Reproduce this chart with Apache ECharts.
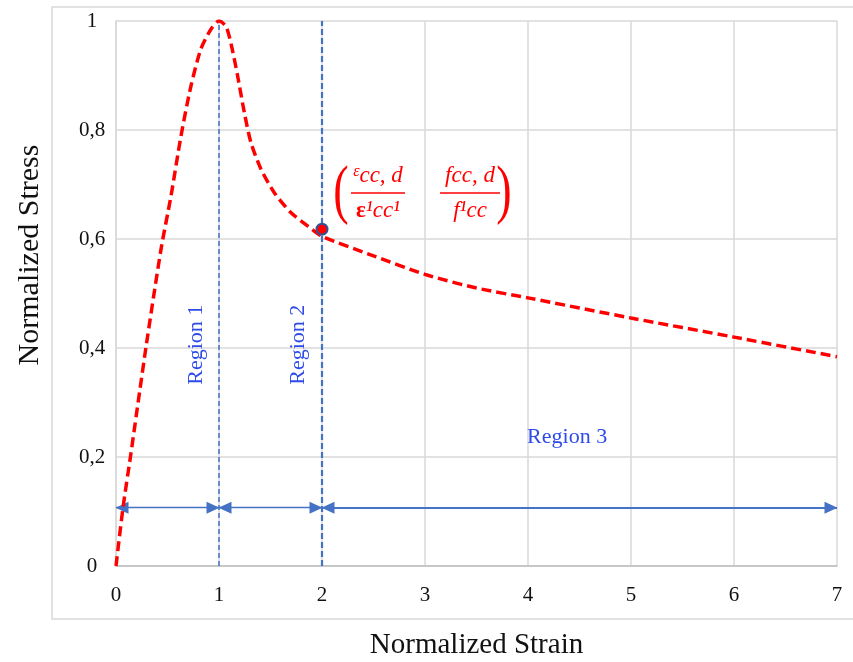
<!DOCTYPE html>
<html>
<head>
<meta charset="utf-8">
<script src="https://cdn.jsdelivr.net/npm/echarts@6/dist/echarts.min.js"></script>
<style>
html,body{margin:0;padding:0;background:#fff;}
#main{width:853px;height:662px;}
</style>
</head>
<body>
<div id="main"></div>
<script>
// ---- data ----
const strainValues = [0, 0.068, 0.14, 0.29, 0.437, 0.534, 0.631, 0.728, 0.825, 0.922, 1.0, 1.068, 1.117, 1.18, 1.246, 1.31, 1.408, 1.537, 1.70, 1.86, 2.0, 2.5, 3, 3.5, 4, 5, 6, 7];
const stressValues = [0, 0.107, 0.2, 0.4, 0.581, 0.679, 0.789, 0.881, 0.949, 0.985, 1.0, 0.99, 0.958, 0.90, 0.832, 0.777, 0.728, 0.685, 0.648, 0.624, 0.605, 0.569, 0.535, 0.51, 0.492, 0.455, 0.42, 0.384];
const regionBoundaries = [1, 2];
const regionArrowY = 0.107;
const regionArrows = [[0, 1], [1, 2], [2, 7]];
const markedPoint = [2, 0.618];
const regionLabels = ['Region 1', 'Region 2', 'Region 3'];
const xTitle = 'Normalized Strain';
const yTitle = 'Normalized Stress';

const curve = strainValues.map((x, i) => [x, stressValues[i]]);
const serif = '"Liberation Serif", "DejaVu Serif", serif';
const blue = '#4472C4';
const labelBlue = '#2E4BEA';

const chart = echarts.init(document.getElementById('main'), null, {renderer: 'canvas'});

const option = {
  animation: false,
  backgroundColor: '#fff',
  grid: {left: 116, right: 16, top: 21, bottom: 96, containLabel: false, outerBoundsMode: 'none'},
  xAxis: {
    type: 'value', min: 0, max: 7, interval: 1,
    name: xTitle, nameLocation: 'middle', nameGap: 65,
    nameTextStyle: {fontFamily: serif, fontSize: 29, color: '#111'},
    axisLine: {show: true, lineStyle: {color: '#bfbfbf', width: 1.5}},
    axisTick: {show: false},
    axisLabel: {fontFamily: serif, fontSize: 21, color: '#111', margin: 19},
    splitLine: {show: true, lineStyle: {color: '#d9d9d9', width: 1.5}}
  },
  yAxis: {
    type: 'value', min: 0, max: 1, interval: 0.2,
    axisLine: {show: true, lineStyle: {color: '#d9d9d9', width: 1.5}},
    axisTick: {show: false},
    axisLabel: {
      fontFamily: serif, fontSize: 21, color: '#111', margin: 24, align: 'center',
      formatter: v => (Math.abs(v - Math.round(v)) < 1e-9 ? String(Math.round(v)) : v.toFixed(1).replace('.', ','))
    },
    splitLine: {show: true, lineStyle: {color: '#d9d9d9', width: 1.5}}
  },
  series: [
    {
      type: 'line', data: curve, smooth: 0.25, symbol: 'none', z: 5,
      lineStyle: {color: '#FF0000', width: 3.5, type: [10, 5]},
      markLine: {
        silent: true, symbol: ['none', 'none'], label: {show: false},
        data: [
          [{coord: [regionBoundaries[0], 0], lineStyle: {color: blue, width: 1.5, type: [5, 3]}}, {coord: [regionBoundaries[0], 1]}],
          [{coord: [regionBoundaries[1], 0], lineStyle: {color: blue, width: 2.2, type: [6, 3]}}, {coord: [regionBoundaries[1], 1]}]
        ]
      }
    },
    {
      type: 'line', data: [], z: 4,
      markLine: {
        silent: true, symbol: ['none', 'none'], label: {show: false},
        data: regionArrows.map((a, i) => [
          {coord: [a[0], regionArrowY], lineStyle: {color: blue, width: i === 2 ? 2 : 1.3, type: 'solid', opacity: 1}},
          {coord: [a[1], regionArrowY]}
        ])
      }
    },
    {
      // left-pointing arrowheads at segment starts
      type: 'scatter', z: 4, silent: true,
      data: regionArrows.map(a => [a[0], regionArrowY]),
      symbol: 'triangle', symbolSize: [12, 13], symbolRotate: 90, symbolOffset: [6, 0],
      itemStyle: {color: blue, opacity: 1}
    },
    {
      // right-pointing arrowheads at segment ends
      type: 'scatter', z: 4, silent: true,
      data: regionArrows.map(a => [a[1], regionArrowY]),
      symbol: 'triangle', symbolSize: [12, 13], symbolRotate: -90, symbolOffset: [-6, 0],
      itemStyle: {color: blue, opacity: 1}
    },
    {
      type: 'scatter', data: [markedPoint], symbol: 'circle', symbolSize: 11, z: 6,
      itemStyle: {color: '#FF0000', borderColor: '#2F5597', borderWidth: 2, opacity: 1}
    }
  ]
};
chart.setOption(option);

const px = (x, y) => chart.convertToPixel({gridIndex: 0}, [x, y]);
const r1 = px(0.78, 0.406);
const r2 = px(1.77, 0.406);
const r3 = px(4.38, 0.237);

const redText = (text, x, y, extra) => Object.assign({
  type: 'text', x: x, y: y,
  style: Object.assign({text: text, fill: '#FF0000', font: 'italic 23px ' + serif, align: 'center', verticalAlign: 'middle'}, extra || {})
});

chart.setOption({
  graphic: [
    {type: 'rect', z: -10, silent: true, shape: {x: 52, y: 7, width: 820, height: 612}, style: {fill: 'none', stroke: '#d9d9d9', lineWidth: 1.5}},
    {type: 'text', x: 30, y: 255, rotation: Math.PI / 2, style: {text: yTitle, font: '30px ' + serif, fill: '#111', align: 'center', verticalAlign: 'middle'}},
    {type: 'text', x: r1[0], y: r1[1], rotation: Math.PI / 2, style: {text: regionLabels[0], font: '22px ' + serif, fill: labelBlue, align: 'center', verticalAlign: 'middle'}},
    {type: 'text', x: r2[0], y: r2[1], rotation: Math.PI / 2, style: {text: regionLabels[1], font: '22px ' + serif, fill: labelBlue, align: 'center', verticalAlign: 'middle'}},
    {type: 'text', x: r3[0], y: r3[1], style: {text: regionLabels[2], font: '22px ' + serif, fill: labelBlue, align: 'center', verticalAlign: 'middle'}},
    // formula annotation
    {type: 'text', x: 341, y: 194, scaleX: 0.7, style: {text: '(', fill: '#FF0000', font: '66px ' + serif, align: 'center', verticalAlign: 'middle'}},
    {type: 'text', x: 504, y: 194, scaleX: 0.7, style: {text: ')', fill: '#FF0000', font: '66px ' + serif, align: 'center', verticalAlign: 'middle'}},
    {type: 'text', x: 378, y: 176, style: {
      text: '{e|ε}{n|cc, d}', align: 'center', verticalAlign: 'middle',
      rich: {e: {fill: '#FF0000', font: 'italic 16px ' + serif, padding: [0, 0, 8, 0]}, n: {fill: '#FF0000', font: 'italic 23px ' + serif}}
    }},
    {type: 'line', shape: {x1: 351, y1: 193, x2: 405, y2: 193}, style: {stroke: '#FF0000', lineWidth: 1.5}},
    {type: 'text', x: 378, y: 211, style: {
      text: '{b|ε}{n|¹cc¹}', align: 'center', verticalAlign: 'middle',
      rich: {b: {fill: '#FF0000', font: 'bold 23px ' + serif}, n: {fill: '#FF0000', font: 'italic 23px ' + serif}}
    }},
    redText('fcc, d', 470, 176),
    {type: 'line', shape: {x1: 440, y1: 193, x2: 500, y2: 193}, style: {stroke: '#FF0000', lineWidth: 1.5}},
    redText('f¹cc', 470, 211)
  ]
});
</script>
</body>
</html>
